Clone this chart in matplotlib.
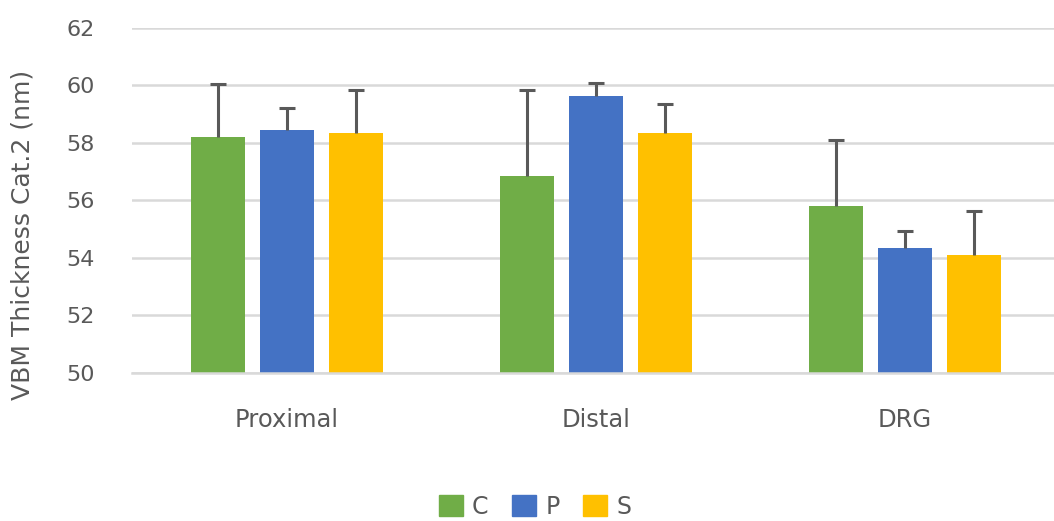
import numpy as np
import matplotlib.pyplot as plt
from matplotlib.patches import Patch

plt.rcParams['font.family'] = ['DejaVu Sans']

categories = ['Proximal', 'Distal', 'DRG']
groups = ['C', 'P', 'S']
c_mean = [58.22, 56.86, 55.80]
p_mean = [58.45, 59.62, 54.34]
s_mean = [58.34, 58.34, 54.09]
c_err = [1.83, 3.00, 2.30]
p_err = [0.77, 0.48, 0.59]
s_err = [1.52, 1.01, 1.55]

colors = ['#70AD47', '#4472C4', '#FFC000']
text_col = '#595959'

fig = plt.figure(figsize=(10.54, 5.21), dpi=100)
ax = fig.add_axes([132/1054, 148/521, 922/1054, 345/521])

x = np.arange(len(categories))
w = 0.175
offsets = [-0.2233, 0, 0.2233]

for means, errs, off, col in zip([c_mean, p_mean, s_mean], [c_err, p_err, s_err], offsets, colors):
    ax.bar(x + off, means, w, color=col, zorder=2)
    # upper error bars only
    _, caps, _ = ax.errorbar(x + off, means, yerr=[np.zeros(len(errs)), errs],
                             fmt='none', ecolor=text_col, elinewidth=2.2,
                             capsize=6, capthick=2.2, zorder=3)
    caps[0].set_visible(False)

ax.set_ylim(50, 62)
ax.set_yticks(np.arange(50, 63, 2))
ax.set_xlim(-0.5016, 2.482)
ax.set_xticks(x)
ax.set_xticklabels(categories)
ax.yaxis.grid(True, color='#d9d9d9', linewidth=1.8, zorder=0)
ax.set_axisbelow(True)
for s in ['top', 'right', 'left']:
    ax.spines[s].set_visible(False)
ax.spines['bottom'].set_color('#d9d9d9')
ax.spines['bottom'].set_linewidth(1.8)
ax.tick_params(axis='both', length=0, colors=text_col)
ax.tick_params(axis='y', pad=27, labelsize=16)
ax.tick_params(axis='x', pad=25, labelsize=17.5)
ax.set_ylabel('VBM Thickness Cat.2 (nm)', color=text_col, fontsize=18)
ax.yaxis.set_label_coords(-97/922, 0.4)

handles = [Patch(color=c) for c in colors]
fig.legend(handles, groups, loc='center', bbox_to_anchor=(535/1054, 1 - 507/521),
           ncol=3, frameon=False, fontsize=17, labelcolor=text_col,
           handlelength=1.0, handleheight=1.0, handletextpad=0.4,
           columnspacing=1.0)

fig.savefig('out.png', dpi=100)
